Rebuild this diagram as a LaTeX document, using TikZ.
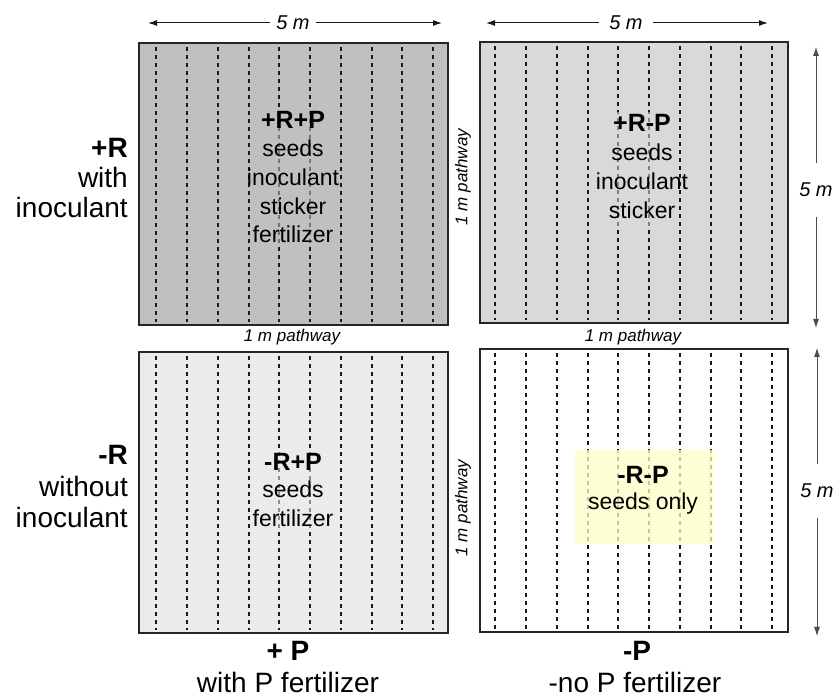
\documentclass[tikz,border=0pt]{standalone}
\usepackage{fontspec}
\setmainfont{Liberation Sans}
\usetikzlibrary{arrows.meta}
\definecolor{fillA}{RGB}{192,192,192}
\definecolor{fillB}{RGB}{217,217,217}
\definecolor{fillC}{RGB}{235,235,235}
\definecolor{fillY}{RGB}{255,255,200}
\begin{document}
\begin{tikzpicture}[x=1pt,y=-1pt,
  plotbox/.style={draw=black!85, line width=1.2pt},
  rowline/.style={dash pattern=on 4pt off 4pt, line width=1.7pt, draw=black!90},
  hdr/.style={font=\fontsize{25}{25}\selectfont\bfseries, anchor=base, inner sep=0pt},
  txt/.style={font=\fontsize{23}{23}\selectfont, anchor=base, inner sep=0pt},
  side/.style={font=\fontsize{28}{28}\selectfont, anchor=base east, inner sep=0pt},
  sidehdr/.style={font=\fontsize{28}{28}\selectfont\bfseries, anchor=base east, inner sep=0pt},
  bot/.style={font=\fontsize{28}{28}\selectfont, anchor=base, inner sep=0pt},
  bothdr/.style={font=\fontsize{28}{28}\selectfont\bfseries, anchor=base, inner sep=0pt},
  pathlbl/.style={font=\fontsize{17}{17}\selectfont\itshape, inner sep=0pt},
  dimlbl/.style={font=\fontsize{20}{20}\selectfont\itshape, inner sep=0pt},
  dimarrow/.style={-{Latex[length=9pt,width=6pt]}, line width=1pt, draw=black!90},
  dimarrowv/.style={-{Latex[length=9pt,width=6pt]}, line width=0.8pt, draw=black!70},
]
\useasboundingbox (0,0) rectangle (839,700);

% ---- plot fills
\fill[fillA] (139,43) rectangle (448,325);
\fill[fillB] (480,42) rectangle (788,323);
\fill[fillC] (139,352) rectangle (448,633);
\fill[white] (480,349) rectangle (788,632);

% ---- planting rows
\foreach \x in {156,187,218,249,279,310,341,372,402,433} {
  \draw[rowline] (\x,47) -- (\x,322);
  \draw[rowline] (\x,356) -- (\x,630);
}
\foreach \x in {495,526,557,588,618,649,680,711,741,772} {
  \draw[rowline] (\x,46) -- (\x,320);
  \draw[rowline] (\x,353) -- (\x,629);
}

% ---- translucent text backgrounds
\fill[fillA, opacity=0.55] (262,108) rectangle (328,246);
\fill[fillB, opacity=0.55] (608,112) rectangle (676,226);
\fill[fillC, opacity=0.55] (262,448) rectangle (328,530);
\fill[fillY, opacity=0.75] (575,450) rectangle (715,544);

% ---- plot borders
\draw[plotbox] (139,43) rectangle (448,325);
\draw[plotbox] (480,42) rectangle (788,323);
\draw[plotbox] (139,352) rectangle (448,633);
\draw[plotbox] (480,349) rectangle (788,632);

% ---- plot texts
\node[hdr] (tl1) at (293,129) {+R+P};
\node[txt] (tl2) at (293,157) {seeds};
\node[txt] (tl3) at (293,186) {inoculant};
\node[txt] (tl4) at (293,215) {sticker};
\node[txt] (tl5) at (293,243) {fertilizer};

\node[hdr] (tr1) at (642,132) {+R-P};
\node[txt] (tr2) at (642,161) {seeds};
\node[txt] (tr3) at (642,190) {inoculant};
\node[txt] (tr4) at (642,219) {sticker};

\node[hdr] (bl1) at (293,471) {-R+P};
\node[txt] (bl2) at (293,498) {seeds};
\node[txt] (bl3) at (293,527) {fertilizer};

\node[hdr] (br1) at (643,484) {-R-P};
\node[txt] (br2) at (643,510) {seeds only};

% ---- pathway labels
\node[pathlbl] (pw1) at (292,337) {1 m pathway};
\node[pathlbl] (pw2) at (633,337) {1 m pathway};
\node[pathlbl, rotate=90] (pw3) at (463,177) {1 m pathway};
\node[pathlbl, rotate=90] (pw4) at (463,508) {1 m pathway};

% ---- row labels
\node[sidehdr] (r1) at (128,158) {+R};
\node[side] (r2) at (128,188) {with};
\node[side] (r3) at (128,218) {inoculant};
\node[sidehdr] (r4) at (128,465) {-R};
\node[side] (r5) at (128,497) {without};
\node[side] (r6) at (128,528) {inoculant};

% ---- column labels
\node[bothdr] (c1) at (288,661) {+ P};
\node[bot] (c2) at (288,692) {with P fertilizer};
\node[bothdr] (c3) at (637,661) {-P};
\node[bot] (c4) at (635,692) {-no P fertilizer};

% ---- dimension arrows
\node[dimlbl, inner xsep=6pt] (dA) at (293,23) {5 m};
\coordinate (dAl) at (148,23);
\coordinate (dAr) at (442,23);
\draw[dimarrow] (dA.west) -- (dAl);
\draw[dimarrow] (dA.east) -- (dAr);

\node[dimlbl, inner xsep=10pt] (dB) at (626,23) {5 m};
\coordinate (dBl) at (486,23);
\coordinate (dBr) at (768,23);
\draw[dimarrow] (dB.west) -- (dBl);
\draw[dimarrow] (dB.east) -- (dBr);

\node[dimlbl, inner ysep=20pt] (dC) at (816,190) {5 m};
\coordinate (dCt) at (816,47);
\coordinate (dCb) at (816,328);
\draw[dimarrowv] (dC.north) -- (dCt);
\draw[dimarrowv] (dC.south) -- (dCb);

\node[dimlbl, inner ysep=20pt] (dD) at (817,491) {5 m};
\coordinate (dDt) at (817,348);
\coordinate (dDb) at (817,636);
\draw[dimarrowv] (dD.north) -- (dDt);
\draw[dimarrowv] (dD.south) -- (dDb);
\end{tikzpicture}
\end{document}
